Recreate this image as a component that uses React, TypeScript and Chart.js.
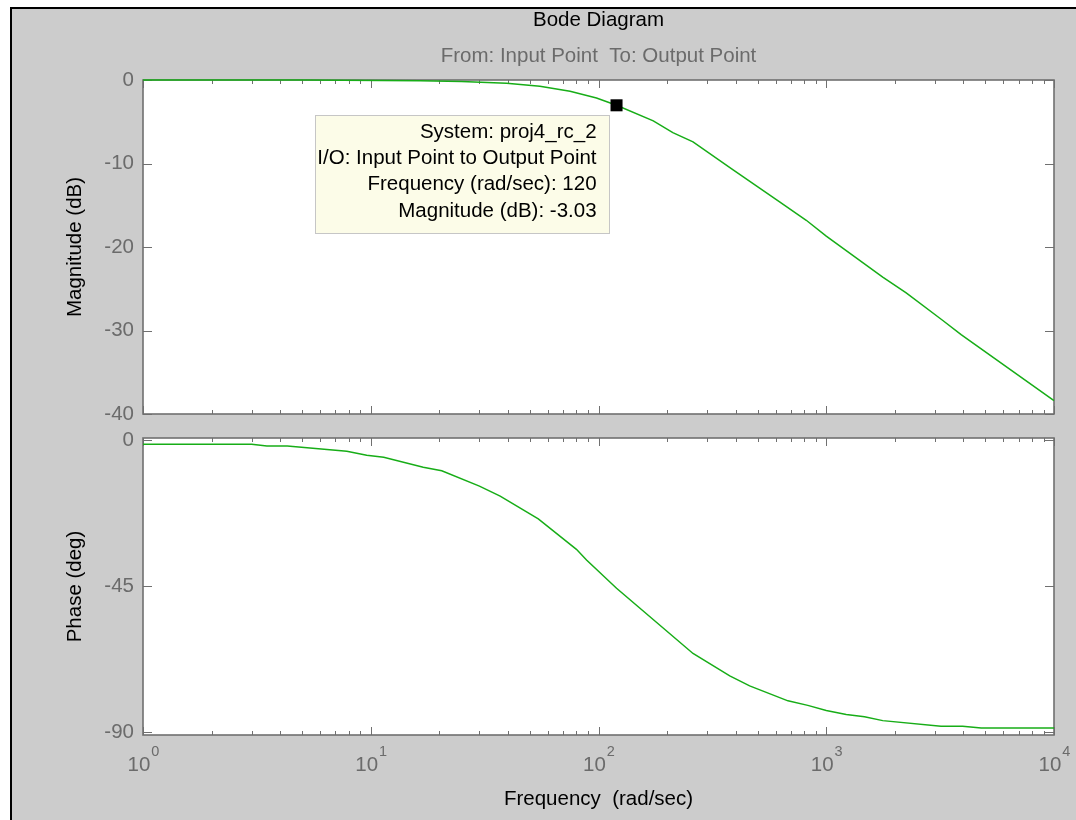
import React, { useEffect, useRef } from 'react';
import { Chart, registerables } from 'chart.js';

Chart.register(...registerables);

// ---- data ----
const magFreq = [1, 5, 16.5, 25, 39.5, 55.3, 75, 98, 120, 174, 212, 260, 383, 624, 817, 1000, 1770, 2244, 3250, 3910, 10000];
const magDb = [0, 0, -0.08, -0.18, -0.4, -0.75, -1.35, -2.15, -3.03, -4.9, -6.3, -7.4, -10.6, -14.6, -16.8, -18.7, -23.6, -25.5, -28.8, -30.5, -38.4];

const phaseFreq = [1, 3, 3.5, 4.3, 7.85, 9.6, 11.4, 17, 20.5, 30, 37, 54.4, 80, 88.6, 120, 260, 377, 461, 679, 830, 1000, 1224, 1472, 1770, 3190, 3970, 4790, 10000];
const phaseDeg = [-1.3, -1.3, -1.85, -1.85, -3.5, -4.7, -5.3, -8.4, -9.5, -14.2, -17.3, -24.3, -33.7, -37.0, -45.7, -65.8, -72.7, -75.8, -80.4, -81.8, -83.4, -84.6, -85.3, -86.5, -88.2, -88.2, -88.8, -88.8];

const decades = [0, 1, 2, 3, 4];
const magTicks = [0, -10, -20, -30, -40];
const phaseTicks = [0, -45, -90];

const tipFreq = 120;
const tipMag = -3.03;
const tipLines = [
  'System: proj4_rc_2',
  'I/O: Input Point to Output Point',
  'Frequency (rad/sec): 120',
  'Magnitude (dB): -3.03',
];

const titleText = 'Bode Diagram';
const subtitleText = 'From: Input Point  To: Output Point';
const xTitleText = 'Frequency  (rad/sec)';
const magTitleText = 'Magnitude (dB)';
const phaseTitleText = 'Phase (deg)';

// ---- styles ----
const FONT = "'Liberation Sans', Arial, Helvetica, sans-serif";
const FS = 20.5;
const GRAY = '#6b6b6b';
const AXIS = '#707070';
const GREEN = '#17ad17';
const W = 1076;
const H = 820;
const PLOT_LEFT = 143;
const PLOT_RIGHT = 1054;

function framePlugin(yTicks: number[], xLabels: boolean) {
  return {
    id: 'matlabFrame',
    beforeDraw(chart: any) {
      const { ctx, chartArea: a } = chart;
      ctx.save();
      ctx.fillStyle = '#ffffff';
      ctx.fillRect(a.left, a.top, a.right - a.left, a.bottom - a.top);
      ctx.restore();
    },
    beforeDatasetsDraw(chart: any) {
      const { ctx, chartArea: a, scales } = chart;
      const xs = scales.x;
      const ys = scales.y;
      ctx.save();
      ctx.strokeStyle = AXIS;
      ctx.lineWidth = 1;
      ctx.beginPath();
      const last = decades[decades.length - 1];
      for (const e of decades) {
        for (let m = 1; m < 10; m++) {
          if (e === last && m > 1) break;
          const x = Math.round(xs.getPixelForValue(m * Math.pow(10, e))) + 0.5;
          const len = m === 1 ? 8 : 4;
          ctx.moveTo(x, a.top);
          ctx.lineTo(x, a.top + len);
          ctx.moveTo(x, a.bottom);
          ctx.lineTo(x, a.bottom - len);
        }
      }
      for (const v of yTicks) {
        const y = Math.round(ys.getPixelForValue(v)) + 0.5;
        ctx.moveTo(a.left, y);
        ctx.lineTo(a.left + 9, y);
        ctx.moveTo(a.right, y);
        ctx.lineTo(a.right - 9, y);
      }
      ctx.stroke();
      ctx.lineWidth = 1.6;
      ctx.strokeRect(a.left, a.top, a.right - a.left, a.bottom - a.top);

      if (xLabels) {
        ctx.fillStyle = GRAY;
        ctx.textBaseline = 'alphabetic';
        ctx.textAlign = 'left';
        for (const e of decades) {
          const x = xs.getPixelForValue(Math.pow(10, e));
          ctx.font = `${FS}px ${FONT}`;
          const base = '10';
          const wb = ctx.measureText(base).width;
          ctx.font = `14.5px ${FONT}`;
          const sup = String(e);
          const ws = ctx.measureText(sup).width;
          const start = x - (wb + ws) / 2;
          ctx.font = `${FS}px ${FONT}`;
          ctx.fillText(base, start, a.bottom + 36);
          ctx.font = `14.5px ${FONT}`;
          ctx.fillText(sup, start + wb + 1, a.bottom + 21);
        }
      }
      ctx.restore();
    },
  };
}

const tipPlugin = {
  id: 'dataTip',
  afterDatasetsDraw(chart: any) {
    const { ctx, scales } = chart;
    const px = scales.x.getPixelForValue(tipFreq);
    const py = scales.y.getPixelForValue(tipMag);
    const left = Math.round(px - 302) + 0.5;
    const top = Math.round(py + 10) + 0.5;
    const w = 294;
    const h = 118;
    ctx.save();
    ctx.fillStyle = '#fcfce8';
    ctx.fillRect(left, top, w, h);
    ctx.strokeStyle = '#c6c6c6';
    ctx.lineWidth = 1;
    ctx.strokeRect(left, top, w, h);
    ctx.fillStyle = '#000000';
    ctx.font = `${FS}px ${FONT}`;
    ctx.textAlign = 'right';
    ctx.textBaseline = 'middle';
    tipLines.forEach((t, i) => ctx.fillText(t, px - 20, py + 27 + i * 26.2));
    ctx.restore();
  },
};

const fontOpt = { family: FONT, size: FS, weight: 'normal' as const, lineHeight: '24px' };

function makeMagChart(canvas: HTMLCanvasElement) {
  return new Chart(canvas, {
    type: 'line',
    data: {
      datasets: [
        {
          data: [{ x: tipFreq, y: tipMag }],
          showLine: false,
          pointStyle: 'rect',
          pointRadius: 8.5,
          pointBackgroundColor: '#000000',
          pointBorderColor: '#000000',
          pointBorderWidth: 0,
          clip: false,
        } as any,
        {
          data: magFreq.map((f, i) => ({ x: f, y: magDb[i] })),
          borderColor: GREEN,
          borderWidth: 1.5,
          pointRadius: 0,
          fill: false,
          tension: 0,
          clip: false,
        } as any,
      ],
    },
    options: {
      responsive: false,
      animation: false,
      devicePixelRatio: 1,
      events: [],
      layout: { padding: { left: 0, right: W - PLOT_RIGHT, top: 0, bottom: 0 } },
      plugins: {
        legend: { display: false },
        tooltip: { enabled: false },
        title: {
          display: true,
          fullSize: false,
          text: titleText,
          color: '#000000',
          font: fontOpt,
          padding: { top: 8, bottom: 0 },
        },
        subtitle: {
          display: true,
          fullSize: false,
          text: subtitleText,
          color: GRAY,
          font: fontOpt,
          padding: { top: 12, bottom: 12 },
        },
      },
      scales: {
        x: {
          type: 'logarithmic',
          min: 1,
          max: 10000,
          grid: { display: false, drawTicks: false },
          border: { display: false },
          ticks: { display: false },
          afterFit: (s: any) => {
            s.height = H - 414;
          },
        },
        y: {
          min: -40,
          max: 0,
          grid: { display: false, drawTicks: false },
          border: { display: false },
          ticks: { color: GRAY, font: fontOpt, padding: 9, autoSkip: false },
          afterBuildTicks: (s: any) => {
            s.ticks = magTicks.map((v) => ({ value: v }));
          },
          afterFit: (s: any) => {
            s.width = PLOT_LEFT;
          },
          title: {
            display: true,
            text: magTitleText,
            color: '#000000',
            font: fontOpt,
            padding: { top: 63, bottom: 0 },
          },
        },
      },
    } as any,
    plugins: [framePlugin(magTicks, false), tipPlugin],
  });
}

function makePhaseChart(canvas: HTMLCanvasElement) {
  return new Chart(canvas, {
    type: 'line',
    data: {
      datasets: [
        {
          data: phaseFreq.map((f, i) => ({ x: f, y: phaseDeg[i] })),
          borderColor: GREEN,
          borderWidth: 1.5,
          pointRadius: 0,
          fill: false,
          tension: 0,
          clip: false,
        } as any,
      ],
    },
    options: {
      responsive: false,
      animation: false,
      devicePixelRatio: 1,
      events: [],
      layout: { padding: { left: 0, right: W - PLOT_RIGHT, top: 438, bottom: 0 } },
      plugins: {
        legend: { display: false },
        tooltip: { enabled: false },
      },
      scales: {
        x: {
          type: 'logarithmic',
          min: 1,
          max: 10000,
          grid: { display: false, drawTicks: false },
          border: { display: false },
          ticks: { display: false },
          afterFit: (s: any) => {
            s.height = H - 735;
          },
          title: {
            display: true,
            text: xTitleText,
            color: '#000000',
            font: fontOpt,
            padding: { top: 0, bottom: 9 },
          },
        },
        y: {
          min: -90.93,
          max: 0.62,
          grid: { display: false, drawTicks: false },
          border: { display: false },
          ticks: { color: GRAY, font: fontOpt, padding: 9, autoSkip: false },
          afterBuildTicks: (s: any) => {
            s.ticks = phaseTicks.map((v) => ({ value: v }));
          },
          afterFit: (s: any) => {
            s.width = PLOT_LEFT;
          },
          title: {
            display: true,
            text: phaseTitleText,
            color: '#000000',
            font: fontOpt,
            padding: { top: 63, bottom: 0 },
          },
        },
      },
    } as any,
    plugins: [framePlugin(phaseTicks, true)],
  });
}

export default function App() {
  const magRef = useRef<HTMLCanvasElement>(null);
  const phaseRef = useRef<HTMLCanvasElement>(null);

  useEffect(() => {
    const c1 = makeMagChart(magRef.current!);
    const c2 = makePhaseChart(phaseRef.current!);
    return () => {
      c1.destroy();
      c2.destroy();
    };
  }, []);

  const canvasStyle: React.CSSProperties = {
    position: 'absolute',
    left: 0,
    top: 0,
    width: W,
    height: H,
  };

  return (
    <div
      style={{
        position: 'absolute',
        left: 0,
        top: 0,
        width: W,
        height: H,
        background: '#ffffff',
        overflow: 'hidden',
      }}
    >
      <div
        style={{
          position: 'absolute',
          left: 10,
          top: 7,
          right: 0,
          bottom: 0,
          background: '#cccccc',
          borderLeft: '2px solid #000000',
          borderTop: '2px solid #000000',
          boxSizing: 'border-box',
        }}
      />
      <canvas ref={magRef} width={W} height={H} style={canvasStyle} />
      <canvas ref={phaseRef} width={W} height={H} style={canvasStyle} />
    </div>
  );
}
